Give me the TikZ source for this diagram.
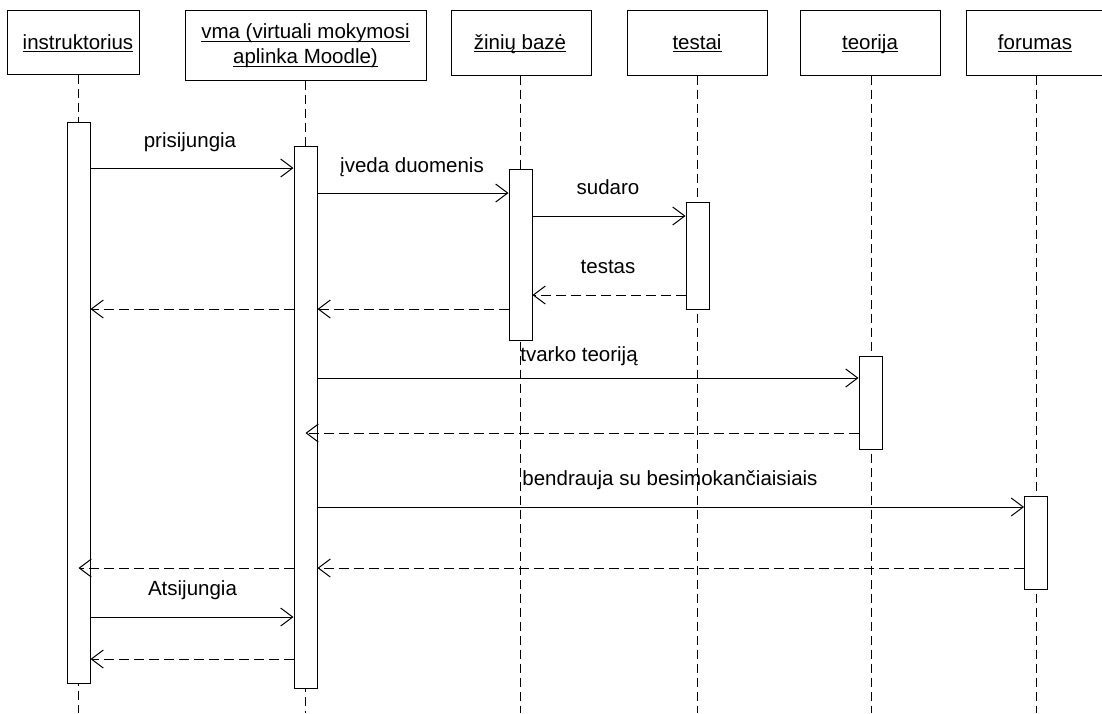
\documentclass[tikz,border=0pt]{standalone}
\usepackage{fontspec}
\setmainfont{Liberation Sans}
\usetikzlibrary{arrows.meta}
\newcommand\myul[1]{\setbox0\hbox{#1}\rlap{\vrule height -2pt depth 3.2pt width \wd0}\box0}
\begin{document}
\begin{tikzpicture}[x=1pt,y=-1pt,
 hdr/.style={draw,line width=1pt,inner sep=0pt,fill=white},
 act/.style={draw,line width=1pt,fill=white,minimum width=23pt,inner sep=0pt},
 life/.style={line width=1pt,dash pattern=on 9pt off 5pt},
 msg/.style={line width=1pt,-{Straight Barb[length=12pt,width=18pt]}},
 ret/.style={msg,dash pattern=on 10pt off 5pt},
 lbl/.style={anchor=base,inner sep=0pt,font=\fontsize{20.5}{24}\selectfont}]
\useasboundingbox (0,0) rectangle (1102,713);
% headers
\node[hdr,minimum width=132pt,minimum height=64pt] (h1) at (73,42) {};
\node[hdr,minimum width=241pt,minimum height=70pt] (h2) at (305.5,45) {};
\node[hdr,minimum width=140pt,minimum height=65pt] (h3) at (521,42.5) {};
\node[hdr,minimum width=140pt,minimum height=65pt] (h4) at (697,42.5) {};
\node[hdr,minimum width=140pt,minimum height=65pt] (h5) at (870,42.5) {};
\node[hdr,minimum width=140pt,minimum height=65pt] (h6) at (1036,42.5) {};
\node[lbl] (t1) at (78,49) {\myul{instruktorius}};
\node[lbl] (t2a) at (305.5,38.5) {\myul{vma (virtuali mokymosi}};
\node[lbl] (t2b) at (305.5,63.5) {\myul{aplinka Moodle)}};
\node[lbl] (t3) at (520,49) {\myul{žinių bazė}};
\node[lbl] (t4) at (697,49) {\myul{testai}};
\node[lbl] (t5) at (870,49) {\myul{teorija}};
\node[lbl] (t6) at (1035,49) {\myul{forumas}};
% lifeline ends
\coordinate (e1) at (78,713);
\coordinate (e2) at (305,713);
\coordinate (e3) at (520,713);
\coordinate (e4) at (697,713);
\coordinate (e5) at (871,713);
\coordinate (e6) at (1036,713);
\draw[life] (h1.south -| e1) -- (e1);
\draw[life] (h2.south -| e2) -- (e2);
\draw[life] (h3.south -| e3) -- (e3);
\draw[life] (h4.south -| e4) -- (e4);
\draw[life] (h5.south -| e5) -- (e5);
\draw[life] (h6.south -| e6) -- (e6);
% activations
\node[act,minimum height=561pt] (a1) at (78.5,402.5) {};
\node[act,minimum height=542pt] (a2) at (305.5,417) {};
\node[act,minimum height=171pt] (a3) at (520.5,254.5) {};
\node[act,minimum height=107pt] (a4) at (697.5,255.5) {};
\node[act,minimum height=93pt] (a5) at (870.5,402.5) {};
\node[act,minimum height=93pt] (a6) at (1036,542.5) {};
% messages
\draw[msg] (a1.east |- 0,168) -- (a2.west |- 0,168);
\node[lbl] (l1) at (190,147) {prisijungia};
\draw[msg] (a2.east |- 0,193) -- (a3.west |- 0,193);
\node[lbl] (l2) at (412,172) {įveda duomenis};
\draw[msg] (a3.east |- 0,216) -- (a4.west |- 0,216);
\node[lbl] (l3) at (608,194) {sudaro};
\draw[ret] (a4.west |- 0,295) -- (a3.east |- 0,295);
\node[lbl] (l4) at (608,273) {testas};
\draw[ret] (a3.west |- 0,309) -- (a2.east |- 0,309);
\draw[ret] (a2.west |- 0,309) -- (a1.east |- 0,309);
\draw[msg] (a2.east |- 0,378) -- (a5.west |- 0,378);
\node[lbl] (l5) at (579,361) {tvarko teoriją};
\draw[ret] (a5.west |- 0,433) -- (a2.center |- 0,433);
\draw[msg] (a2.east |- 0,507) -- (a6.west |- 0,507);
\node[lbl] (l6) at (670,485) {bendrauja su besimokančiaisiais};
\draw[ret] (a6.west |- 0,568) -- (a2.east |- 0,568);
\draw[ret] (a2.west |- 0,568) -- (a1.center |- 0,568);
\draw[msg] (a1.east |- 0,617) -- (a2.west |- 0,617);
\node[lbl] (l7) at (192.5,595) {Atsijungia};
\draw[ret] (a2.west |- 0,659) -- (a1.east |- 0,659);
\end{tikzpicture}
\end{document}
